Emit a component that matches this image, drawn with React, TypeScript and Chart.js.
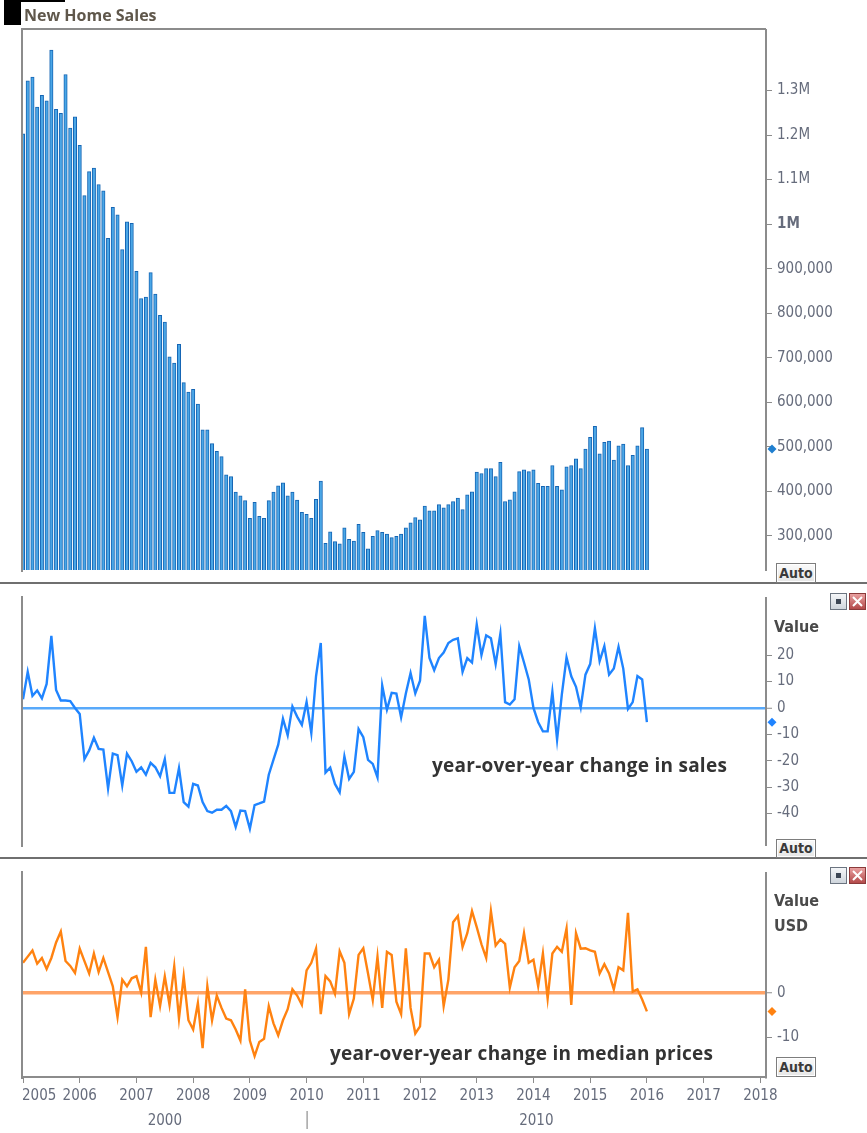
import React, { useEffect, useRef } from 'react';
import { Chart, registerables } from 'chart.js';

Chart.register(...registerables);

// ---------- data ----------
const START_YEAR = 2005; // first month: Jan 2005, monthly to Jan 2016

const salesValues = [
  1203000, 1322000, 1330000, 1263000, 1289000, 1277000, 1391000, 1258000, 1249000, 1336000, 1216000, 1241000,
  1177000, 1064000, 1118000, 1126000, 1089000, 1075000, 968000, 1038000, 1021000, 943000, 1005000, 1002000,
  894000, 833000, 836000, 891000, 843000, 795000, 780000, 702000, 688000, 730000, 644000, 623000,
  629000, 596000, 538000, 538000, 507000, 490000, 478000, 437000, 433000, 398000, 390000, 379000,
  339000, 375000, 344000, 339000, 379000, 398000, 412000, 419000, 390000, 398000, 380000, 353000,
  348000, 339000, 382000, 423000, 283000, 309000, 287000, 282000, 318000, 292000, 288000, 326000,
  308000, 271000, 299000, 312000, 308000, 304000, 296000, 299000, 304000, 318000, 329000, 341000,
  336000, 367000, 356000, 356000, 370000, 363000, 370000, 377000, 385000, 359000, 392000, 399000,
  443000, 440000, 451000, 451000, 433000, 465000, 377000, 381000, 399000, 444000, 448000, 444000,
  448000, 418000, 411000, 411000, 458000, 411000, 403000, 455000, 458000, 473000, 451000, 495000,
  521000, 546000, 484000, 510000, 513000, 470000, 502000, 506000, 458000, 481000, 502000, 543000,
  495000,
];

const salesYoY = [
  3.3, 13.7, 4.6, 6.6, 3.6, 9.1, 27.3, 6.8, 2.8, 2.8, 2.6, 0,
  -2.3, -19.4, -16.1, -11.3, -15.5, -15.8, -30.5, -17.3, -17.9, -29.4, -17.3, -20.2,
  -24.2, -22.5, -25.3, -20.8, -22.5, -25.9, -19.4, -32.2, -32.2, -22.8, -35.7, -37.4,
  -28.8, -29.4, -35.7, -39.1, -39.7, -38.6, -38.6, -37.1, -39.1, -45.1, -38.9, -39.1,
  -45.8, -36.8, -36.2, -35.5, -25.3, -19.6, -13.9, -4.1, -10.4, 0.5, -3.3, -6.4,
  2.2, -9.5, 12.0, 24.6, -24.5, -22.6, -28.8, -32.0, -18.4, -26.9, -24.2, -8.0,
  -11.1, -19.7, -21.2, -26.3, 8.5, -0.6, 5.7, 5.4, -3.6, 5.5, 13.2, 5.5,
  10.3, 34.9, 18.9, 14.3, 18.9, 21.0, 24.6, 25.8, 26.4, 13.7, 18.9, 17.2,
  31.6, 20.0, 27.5, 26.4, 16.6, 28.1, 2.2, 1.3, 3.3, 23.4, 17.2, 10.8,
  0, -5.4, -8.9, -8.9, 6.1, -12.0, 5.0, 19.1, 12.0, 8.0, 0.2, 12.6,
  16.6, 30.2, 17.7, 23.4, 12.6, 14.9, 23.1, 14.9, -0.4, 2.2, 12.1, 10.8,
  -5.4,
];

const priceYoY = [
  6.8, 8.2, 9.6, 6.6, 7.9, 5.4, 7.9, 11.4, 13.9, 7.2, 6.1, 4.5,
  10.0, 7.2, 4.4, 8.9, 4.7, 7.9, 4.7, 1.5, -5.5, 3.0, 1.5, 3.3,
  3.8, 0.1, 10.4, -5.5, 3.0, -3.0, 3.7, -2.7, 6.0, -5.8, 3.7, -6.2,
  -8.3, -2.3, -12.5, 1.5, -6.2, -0.6, -3.4, -5.8, -6.2, -8.3, -10.8, 0.8,
  -10.8, -14.3, -11.1, -10.4, -3.0, -6.9, -9.6, -6.2, -3.7, 0.8, -0.6, -2.7,
  5.1, 6.8, 10.0, -4.8, 3.8, 2.6, -0.2, 9.4, 6.8, -4.8, -1.3, 8.6,
  10.1, 4.4, -1.6, 8.2, -3.4, 9.3, 8.6, -2.0, -4.8, 10.1, -3.4, -9.2,
  -7.6, 8.9, 8.9, 5.8, 7.5, -3.0, 3.0, 16.0, 17.4, 10.4, 13.5, 18.5,
  14.9, 11.0, 7.9, 18.5, 10.7, 12.1, 11.1, 1.2, 5.8, 7.2, 13.5, 6.8,
  7.5, 1.5, 8.9, -1.3, 8.9, 10.4, 9.3, 14.6, -2.7, 13.5, 10.0, 10.1,
  9.6, 9.3, 4.4, 6.5, 4.4, 0.8, 5.8, 5.1, 18.1, 0.3, 0.8, -1.5,
  -4.2,
];

const salesTicks = [1300000, 1200000, 1100000, 1000000, 900000, 800000, 700000, 600000, 500000, 400000, 300000];
const salesYoYTicks = [20, 10, 0, -10, -20, -30, -40];
const priceYoYTicks = [0, -10];
const yearTicks = [2005, 2006, 2007, 2008, 2009, 2010, 2011, 2012, 2013, 2014, 2015, 2016, 2017, 2018];
const decadeLabels = ['2000', '2010'];
const decadeBoundary = 2010;

const titleText = 'New Home Sales';
const salesNote = 'year-over-year change in sales';
const priceNote = 'year-over-year change in median prices';

// ---------- styles ----------
const X_MIN = 2005;
const X_MAX = 2018.1;
const AXIS_W = 101;
const TICK_FONT = '"DejaVu Sans Condensed", "Liberation Sans Narrow", "DejaVu Sans", sans-serif';
const TICK_COLOR = '#666c7c';
const FRAME = '#8c8c8c';
const BAR_FILL = '#4aa6e6';
const BAR_EDGE = '#1565b4';
const SALES_LINE = '#1f84ff';
const SALES_ZERO = '#58a9fa';
const PRICE_LINE = '#ff8210';
const PRICE_ZERO = '#ffa468';

const toPoints = (arr: number[]) => arr.map((y, i) => ({ x: START_YEAR + i / 12, y }));

const fmtSales = (v: number) =>
  v >= 1000000 ? `${+(v / 1000000).toFixed(1)}M` : v.toLocaleString('en-US');

const framePlugin = (drawTop: boolean) => ({
  id: 'frame',
  afterDraw(chart: any) {
    const { ctx, chartArea: a } = chart;
    ctx.save();
    ctx.strokeStyle = FRAME;
    ctx.lineWidth = 2;
    ctx.beginPath();
    ctx.moveTo(a.left - 1, drawTop ? a.top - 1 : a.top - 2);
    ctx.lineTo(a.left - 1, a.bottom + 2);
    if (drawTop) {
      ctx.moveTo(a.left - 2, a.top - 1);
      ctx.lineTo(a.right, a.top - 1);
    }
    ctx.stroke();
    ctx.restore();
  },
});

const markerPlugin = (values: number[], color: string) => ({
  id: 'lastMarker',
  afterDraw(chart: any) {
    const { ctx, chartArea: a } = chart;
    const y = chart.scales.y.getPixelForValue(values[values.length - 1]);
    const x = a.right + 6;
    const r = 4.5;
    ctx.save();
    ctx.fillStyle = color;
    ctx.beginPath();
    ctx.moveTo(x, y - r);
    ctx.lineTo(x + r, y);
    ctx.lineTo(x, y + r);
    ctx.lineTo(x - r, y);
    ctx.closePath();
    ctx.fill();
    ctx.restore();
  },
});

const yearLabelPlugin = {
  id: 'yearLabels',
  afterDraw(chart: any) {
    const { ctx, chartArea: a } = chart;
    const xs = chart.scales.x;
    ctx.save();
    ctx.font = `15px ${TICK_FONT}`;
    ctx.fillStyle = TICK_COLOR;
    ctx.textBaseline = 'middle';
    ctx.textAlign = 'left';
    const rowY = a.bottom + 19;
    yearTicks.forEach((yr) => {
      const label = String(yr);
      const w = ctx.measureText(label).width;
      let left = xs.getPixelForValue(yr) - w / 2;
      if (left < a.left - 1) left = a.left - 1;
      ctx.fillText(label, left, rowY);
    });
    // decade row
    const row2 = a.bottom + 44;
    const bx = xs.getPixelForValue(decadeBoundary);
    ctx.textAlign = 'center';
    ctx.fillText(decadeLabels[0], (a.left + bx) / 2, row2);
    ctx.fillText(decadeLabels[1], (bx + a.right) / 2, row2);
    ctx.strokeStyle = '#777';
    ctx.lineWidth = 1;
    ctx.beginPath();
    ctx.moveTo(bx + 0.5, a.bottom + 34);
    ctx.lineTo(bx + 0.5, a.bottom + 52);
    ctx.stroke();
    ctx.restore();
  },
};

const rightAxis = (min: number, max: number, ticks: number[], fmt: (v: number) => string, zeroColor?: string, zeroWidth = 2) => ({
  position: 'right' as const,
  min,
  max,
  afterBuildTicks: (s: any) => {
    s.ticks = ticks.map((v) => ({ value: v }));
  },
  afterFit: (s: any) => {
    s.width = AXIS_W;
  },
  border: { display: true, color: FRAME, width: 2 },
  grid: {
    drawOnChartArea: !!zeroColor,
    color: (c: any) => (zeroColor && c.tick && c.tick.value === 0 ? zeroColor : 'rgba(0,0,0,0)'),
    lineWidth: (c: any) => (c.tick && c.tick.value === 0 ? zeroWidth : 1),
    tickColor: FRAME,
    tickLength: 6,
    tickWidth: 1,
  },
  ticks: {
    padding: 5,
    color: TICK_COLOR,
    font: (c: any) => ({
      family: TICK_FONT,
      size: 15,
      weight: c.tick && c.tick.value === 1000000 ? 'bold' : 'normal',
    }),
    callback: (v: any) => fmt(Number(v)),
  },
});

function useChart(ref: React.RefObject<HTMLCanvasElement>, make: (c: HTMLCanvasElement) => Chart) {
  useEffect(() => {
    if (!ref.current) return;
    const chart = make(ref.current);
    return () => chart.destroy();
  }, []);
}

const smallFont = '"DejaVu Sans Condensed", "DejaVu Sans", sans-serif';

function AutoBox({ top, height }: { top: number; height: number }) {
  return (
    <div
      style={{
        position: 'absolute',
        left: 776,
        top,
        width: 38,
        height,
        border: '1px solid #7d7d7d',
        background: 'linear-gradient(#fafafa, #e6e6e6)',
        boxShadow: 'inset 0 0 0 1px #fff',
        font: `bold 14px ${smallFont}`,
        color: '#3a3a3a',
        lineHeight: `${height}px`,
        textAlign: 'center',
      }}
    >
      Auto
    </div>
  );
}

function PanelIcons({ top }: { top: number }) {
  return (
    <>
      <div
        style={{
          position: 'absolute',
          left: 830,
          top,
          width: 15,
          height: 15,
          border: '1px solid #6b7480',
          background: 'linear-gradient(#f4f6f8, #cfd5dc)',
        }}
      >
        <div style={{ position: 'absolute', left: 5, top: 5, width: 5, height: 5, background: '#3c4654' }} />
      </div>
      <div
        style={{
          position: 'absolute',
          left: 849,
          top,
          width: 15,
          height: 15,
          border: '1px solid #8a3a3a',
          background: 'linear-gradient(#e9a0a0, #b34a4a)',
        }}
      >
        <svg width="15" height="15" style={{ position: 'absolute', left: 0, top: 0 }}>
          <path d="M3 3 L12 12 M12 3 L3 12" stroke="#fff" strokeWidth="2" />
        </svg>
      </div>
    </>
  );
}

export default function App() {
  const topRef = useRef<HTMLCanvasElement>(null);
  const midRef = useRef<HTMLCanvasElement>(null);
  const botRef = useRef<HTMLCanvasElement>(null);

  useChart(topRef, (c) =>
    new Chart(c, {
      type: 'bar',
      data: {
        datasets: [
          {
            data: toPoints(salesValues) as any,
            backgroundColor: BAR_FILL,
            borderColor: BAR_EDGE,
            borderWidth: { top: 1, left: 1, right: 1, bottom: 0 } as any,
            borderSkipped: 'start',
            barThickness: 3.4,
            grouped: false,
          },
        ],
      },
      options: {
        animation: false,
        responsive: false,
        maintainAspectRatio: false,
        layout: { padding: { left: 23, top: 30, bottom: 1, right: 0 } },
        plugins: { legend: { display: false }, tooltip: { enabled: false } },
        scales: {
          x: { type: 'linear', min: X_MIN, max: X_MAX, display: false, offset: false, grid: { offset: false } },
          y: rightAxis(223200, 1436000, salesTicks, fmtSales) as any,
        },
      },
      plugins: [framePlugin(true), markerPlugin(salesValues, '#1f7fd0')],
    })
  );

  useChart(midRef, (c) =>
    new Chart(c, {
      type: 'line',
      data: {
        datasets: [
          {
            data: toPoints(salesYoY) as any,
            borderColor: SALES_LINE,
            borderWidth: 2.4,
            pointRadius: 0,
            tension: 0,
            fill: false,
          },
        ],
      },
      options: {
        animation: false,
        responsive: false,
        maintainAspectRatio: false,
        layout: { padding: { left: 23, top: 1, bottom: 1, right: 0 } },
        plugins: { legend: { display: false }, tooltip: { enabled: false } },
        scales: {
          x: { type: 'linear', min: X_MIN, max: X_MAX, display: false },
          y: rightAxis(-51.94, 41.65, salesYoYTicks, (v) => String(v), SALES_ZERO, 2.5) as any,
        },
      },
      plugins: [framePlugin(false), markerPlugin(salesYoY, '#1f84ff')],
    })
  );

  useChart(botRef, (c) =>
    new Chart(c, {
      type: 'line',
      data: {
        datasets: [
          {
            data: toPoints(priceYoY) as any,
            borderColor: PRICE_LINE,
            borderWidth: 2.4,
            pointRadius: 0,
            tension: 0,
            fill: false,
          },
        ],
      },
      options: {
        animation: false,
        responsive: false,
        maintainAspectRatio: false,
        layout: { padding: { left: 23, top: 1, bottom: 0, right: 0 } },
        plugins: { legend: { display: false }, tooltip: { enabled: false } },
        scales: {
          x: {
            type: 'linear',
            min: X_MIN,
            max: X_MAX,
            afterBuildTicks: (s: any) => {
              s.ticks = yearTicks.map((v) => ({ value: v }));
            },
            afterFit: (s: any) => {
              s.height = 56;
            },
            border: { display: true, color: FRAME, width: 2 },
            grid: { drawOnChartArea: false, tickLength: 6, color: FRAME, tickWidth: 1 },
            ticks: { display: false },
          },
          y: rightAxis(-19.04, 27.13, priceYoYTicks, (v) => String(v), PRICE_ZERO, 3.5) as any,
        },
      },
      plugins: [framePlugin(false), markerPlugin(priceYoY, '#ff8210'), yearLabelPlugin],
    })
  );

  const label = (text: string, top: number) => (
    <div
      style={{
        position: 'absolute',
        left: 774,
        top,
        font: `bold 16px ${smallFont}`,
        color: '#4a4a4a',
        lineHeight: '20px',
        whiteSpace: 'nowrap',
      }}
    >
      {text}
    </div>
  );

  const note = (text: string, left: number, top: number) => (
    <div
      style={{
        position: 'absolute',
        left,
        top,
        font: 'bold 19px "Open Sans", sans-serif',
        letterSpacing: '0.25px',
        color: '#333',
        lineHeight: '22px',
        whiteSpace: 'nowrap',
      }}
    >
      {text}
    </div>
  );

  return (
    <div
      style={{
        position: 'fixed',
        left: 0,
        top: 0,
        width: 867,
        height: 1133,
        background: '#fff',
        overflow: 'hidden',
      }}
    >
      <canvas ref={topRef} width={867} height={584} style={{ position: 'absolute', left: 0, top: 0 }} />
      <canvas ref={midRef} width={867} height={275} style={{ position: 'absolute', left: 0, top: 584 }} />
      <canvas ref={botRef} width={867} height={274} style={{ position: 'absolute', left: 0, top: 859 }} />

      {/* title */}
      <div style={{ position: 'absolute', left: 4, top: 0, width: 61, height: 2, background: '#000' }} />
      <div style={{ position: 'absolute', left: 4, top: 0, width: 17, height: 25, background: '#000' }} />
      <div
        style={{
          position: 'absolute',
          left: 24,
          top: 4,
          font: 'bold 16px "Open Sans", sans-serif',
          color: '#5f574b',
          lineHeight: '22px',
          whiteSpace: 'nowrap',
        }}
      >
        {titleText}
      </div>

      {/* panel separators */}
      <div style={{ position: 'absolute', left: 0, top: 582, width: 867, height: 2, background: '#6f6f6f' }} />
      <div style={{ position: 'absolute', left: 0, top: 857, width: 867, height: 2, background: '#6f6f6f' }} />

      <AutoBox top={563} height={18} />
      <AutoBox top={839} height={17} />
      <AutoBox top={1057} height={18} />

      <PanelIcons top={593} />
      <PanelIcons top={867} />

      {label('Value', 617)}
      {label('Value', 891)}
      {label('USD', 916)}

      {note(salesNote, 432, 754)}
      {note(priceNote, 330, 1042)}
    </div>
  );
}
